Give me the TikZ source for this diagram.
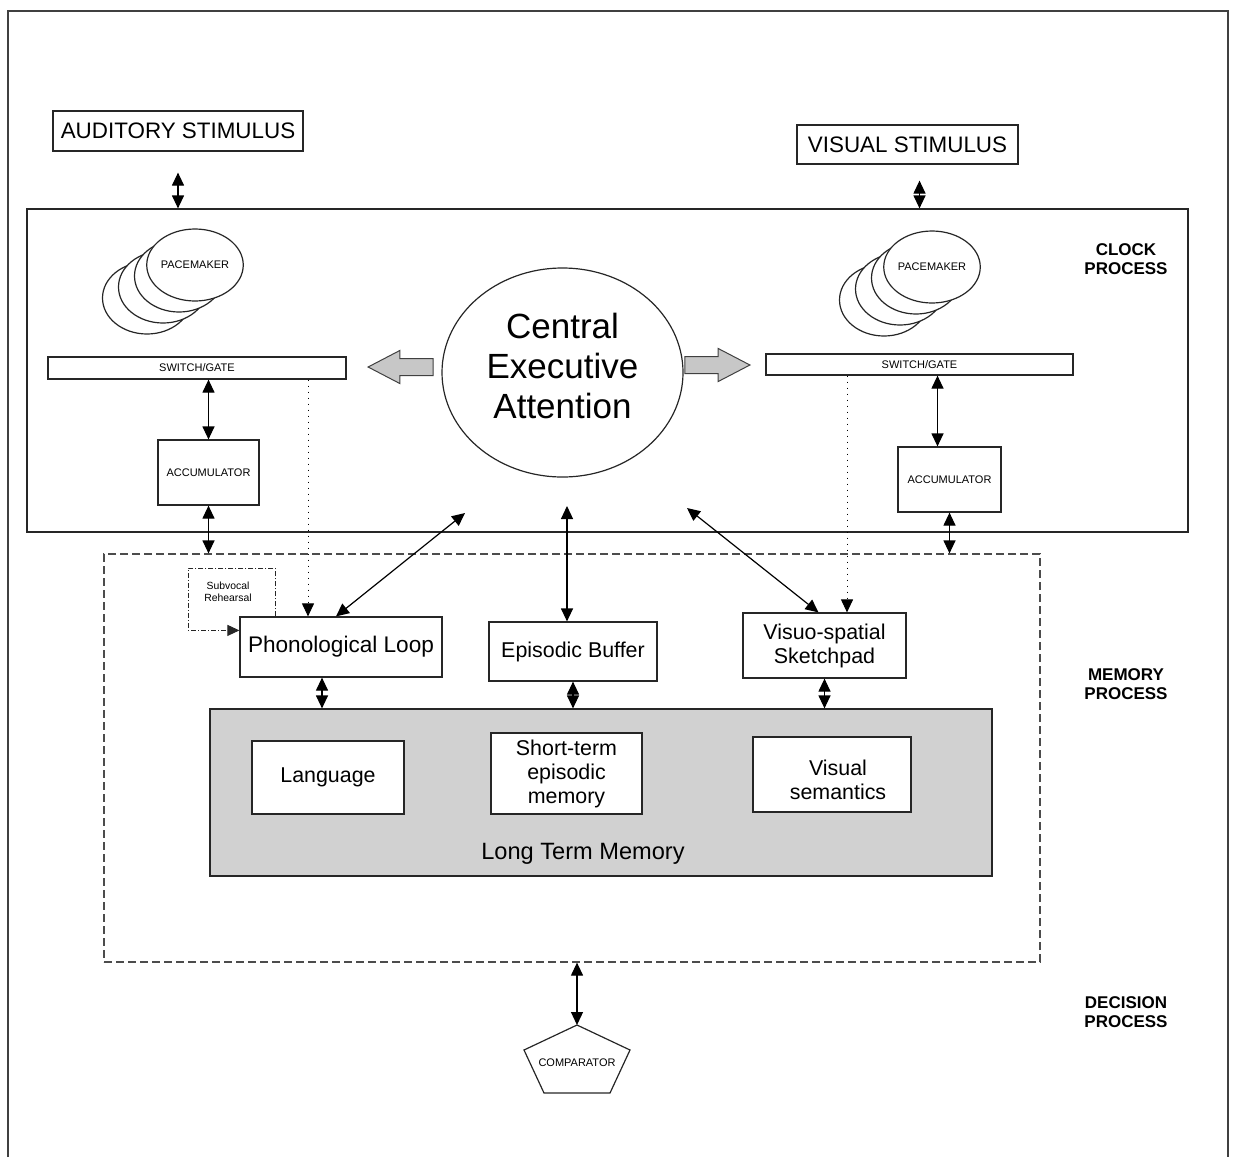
\documentclass[tikz,border=0pt]{standalone}
\usepackage{fontspec}
\setmainfont{Liberation Sans}
\usetikzlibrary{arrows.meta,shapes}
\tikzstyle{box}=[draw=black!85,line width=0.6pt,fill=white,inner sep=0pt,align=center]
\tikzstyle{small box}=[box,font=\fontsize{5.5}{6.6}\selectfont]
\tikzstyle{store}=[box,font=\fontsize{10.7}{12}\selectfont]
\tikzstyle{pacer}=[ellipse,draw=black!85,line width=0.6pt,fill=white,minimum width=44.5pt,minimum height=36pt,inner sep=0pt,font=\fontsize{5.5}{6.6}\selectfont]
\tikzstyle{stage}=[font=\bfseries\fontsize{8.5}{9.6}\selectfont,align=center]
\tikzstyle{link}=[draw,line width=0.6pt,{Triangle[length=6.5pt,width=6pt]}-{Triangle[length=6.5pt,width=6pt]}]
\tikzstyle{feed}=[draw,line width=0.5pt,dash pattern=on 0.5pt off 2.5pt,-{Triangle[length=6.5pt,width=6pt]}]
\tikzstyle{push}=[single arrow,draw=black!75,fill=black!22,line width=0.5pt,minimum height=32.5pt,inner xsep=0pt,inner ysep=4pt,single arrow head extend=4pt,single arrow tip angle=55]

\begin{document}
\begin{tikzpicture}[x=0.5pt,y=-0.5pt]
    \useasboundingbox (0,0) rectangle (1235,1157);
    % outer frame, open at the bottom
    \draw[line width=1pt,black!75] (8,1157) -- (8,11) -- (1228,11) -- (1228,1157);

    % the three process areas
    \node[draw=black!85,line width=0.6pt,minimum width=580.5pt,minimum height=161.5pt,inner sep=0pt] (clock) at (607.5,370.5) {};
    \node[draw=black!70,line width=0.6pt,dash pattern=on 4pt off 2pt,minimum width=468pt,minimum height=204pt,inner sep=0pt] (mem) at (572,758) {};
    \node[draw=black!85,fill=black!18,line width=0.6pt,minimum width=391pt,minimum height=83.5pt,inner sep=0pt] (ltm) at (601,792.5) {};
    \node[font=\fontsize{11.8}{14}\selectfont] (ltmname) at (583,854) {Long Term Memory};

    \node[stage] (clockname) at (1126,259) {CLOCK\\PROCESS};
    \node[stage] (memname) at (1126,684) {MEMORY\\PROCESS};
    \node[stage] (decname) at (1126,1012) {DECISION\\PROCESS};

    % stimuli
    \node[box,font=\fontsize{11.2}{13}\selectfont,minimum width=125pt,minimum height=20pt] (aud) at (178,131) {AUDITORY STIMULUS};
    \node[box,font=\fontsize{11.2}{13}\selectfont,minimum width=110.5pt,minimum height=19.5pt] (vis) at (907.5,144.5) {VISUAL STIMULUS};

    % pacemakers, back copies first
    \foreach \cx/\cy/\side in {195/265/l, 932/267/r} {
        \foreach \k in {3,2,1}
            \node[pacer] (pace\side\k) at (\cx-16*\k,\cy+11*\k) {};
        \node[pacer] (pace\side) at (\cx,\cy) {PACEMAKER};
    }

    % switches and accumulators
    \node[small box,minimum width=149pt,minimum height=11pt] (gatel) at (197,368) {SWITCH/GATE};
    \node[small box,minimum width=153.5pt,minimum height=10.5pt] (gater) at (919.5,364.5) {SWITCH/GATE};
    \node[small box,minimum width=50.5pt,minimum height=32.5pt] (accl) at (208.5,472.5) {ACCUMULATOR};
    \node[small box,minimum width=51.5pt,minimum height=32.5pt] (accr) at (949.5,479.5) {ACCUMULATOR};

    % central executive
    \node[ellipse,draw=black!85,line width=0.6pt,minimum width=120.5pt,minimum height=104.5pt,inner sep=0pt] (ce) at (562.5,372.5) {};
    \node[align=center,font=\fontsize{17.5}{20}\selectfont] (cename) at ([yshift=3.5pt]ce.center) {Central\\Executive\\Attention};
    \node[push,shape border rotate=180,anchor=tip] (pushl) at (367,367) {};
    \node[push,anchor=tip] (pushr) at (751,365) {};

    % working memory parts
    \node[box,font=\fontsize{11.3}{13}\selectfont,minimum width=101pt,minimum height=30pt] (pl) at (341,647) {Phonological Loop};
    \node[store,minimum width=84pt,minimum height=29.5pt] (eb) at (573,651.5) {Episodic Buffer};
    \node[store,minimum width=81.5pt,minimum height=32.5pt] (vs) at (824.5,645.5) {Visuo-spatial\\Sketchpad};
    \node[store,minimum width=76pt,minimum height=36.5pt] (lang) at (328,777.5) {Language};
    \node[store,minimum width=75.5pt,minimum height=40.5pt] (stem) at (566.5,773.5) {Short-term\\episodic\\memory};
    \node[store,minimum width=79pt,minimum height=37.5pt] (vsem) at (832,774.5) {};
    \node[align=center,font=\fontsize{10.7}{12}\selectfont] (vsemname) at ([xshift=3pt,yshift=-2.5pt]vsem.center) {Visual\\semantics};

    \node[font=\fontsize{5.2}{6.2}\selectfont,align=center] (sub) at (228,592) {Subvocal\\Rehearsal};
    \draw[line width=0.5pt,black!85,dash pattern=on 2.5pt off 1pt on 0.5pt off 1pt,-{Triangle[length=6pt,width=5.5pt]}]
        ([xshift=18pt]pl.north west) -- ++(0,-48) -- ++(-87,0) -- ++(0,62) -- ++(51,0);

    % comparator
    \node[font=\fontsize{5.5}{6.6}\selectfont] (comp) at (577,1063) {COMPARATOR};
    \draw[line width=0.6pt,black!85] (comp.center) ++(0,-38) coordinate (comptop)
        -- ++(53,25) -- ++(-20,43) -- ++(-66,0) -- ++(-20,-43) -- cycle;

    % free ends under the central executive
    \coordinate (ceL) at (465,513);
    \coordinate (ceM) at (567,506);
    \coordinate (ceR) at (687,508);
    \coordinate (visfoot) at ([xshift=6pt]vis.south);
    \coordinate (accrtop) at ([xshift=-6pt]accr.north);
    \coordinate (plfeed) at ([xshift=-16.5pt]pl.north);
    \coordinate (vsfeed) at ([xshift=11.25pt]vs.north);
    \coordinate (plfoot) at ([xshift=-9.5pt]pl.south);

    % connectors
    \draw[link,shorten <=10.5pt] (aud.south) -- (aud.south |- clock.north);
    \draw[link,shorten <=8pt] (visfoot) -- (visfoot |- clock.north);
    \draw[link] (accl.north) -- (accl.north |- gatel.south);
    \draw[link] (accl.south) -- (accl.south |- mem.north);
    \draw[link] (accrtop) -- (accrtop |- gater.south);
    \draw[link] (accr.south) -- (accr.south |- mem.north);
    \draw[link] (ceL) -- ([xshift=-2.5pt]pl.north);
    \draw[link] (ceM) -- (ceM |- eb.north);
    \draw[link] (ceR) -- ([xshift=-3pt]vs.north);
    \draw[feed] (plfeed |- gatel.south) -- (plfeed);
    \draw[feed] (vsfeed |- gater.south) -- (vsfeed);
    \draw[link] (plfoot) -- (plfoot |- ltm.north);
    \draw[link] (eb.south) -- (eb.south |- ltm.north);
    \draw[link] (vs.south) -- (vs.south |- ltm.north);
    \draw[link] (comptop |- mem.south) -- (comptop);

\end{tikzpicture}
\end{document}
